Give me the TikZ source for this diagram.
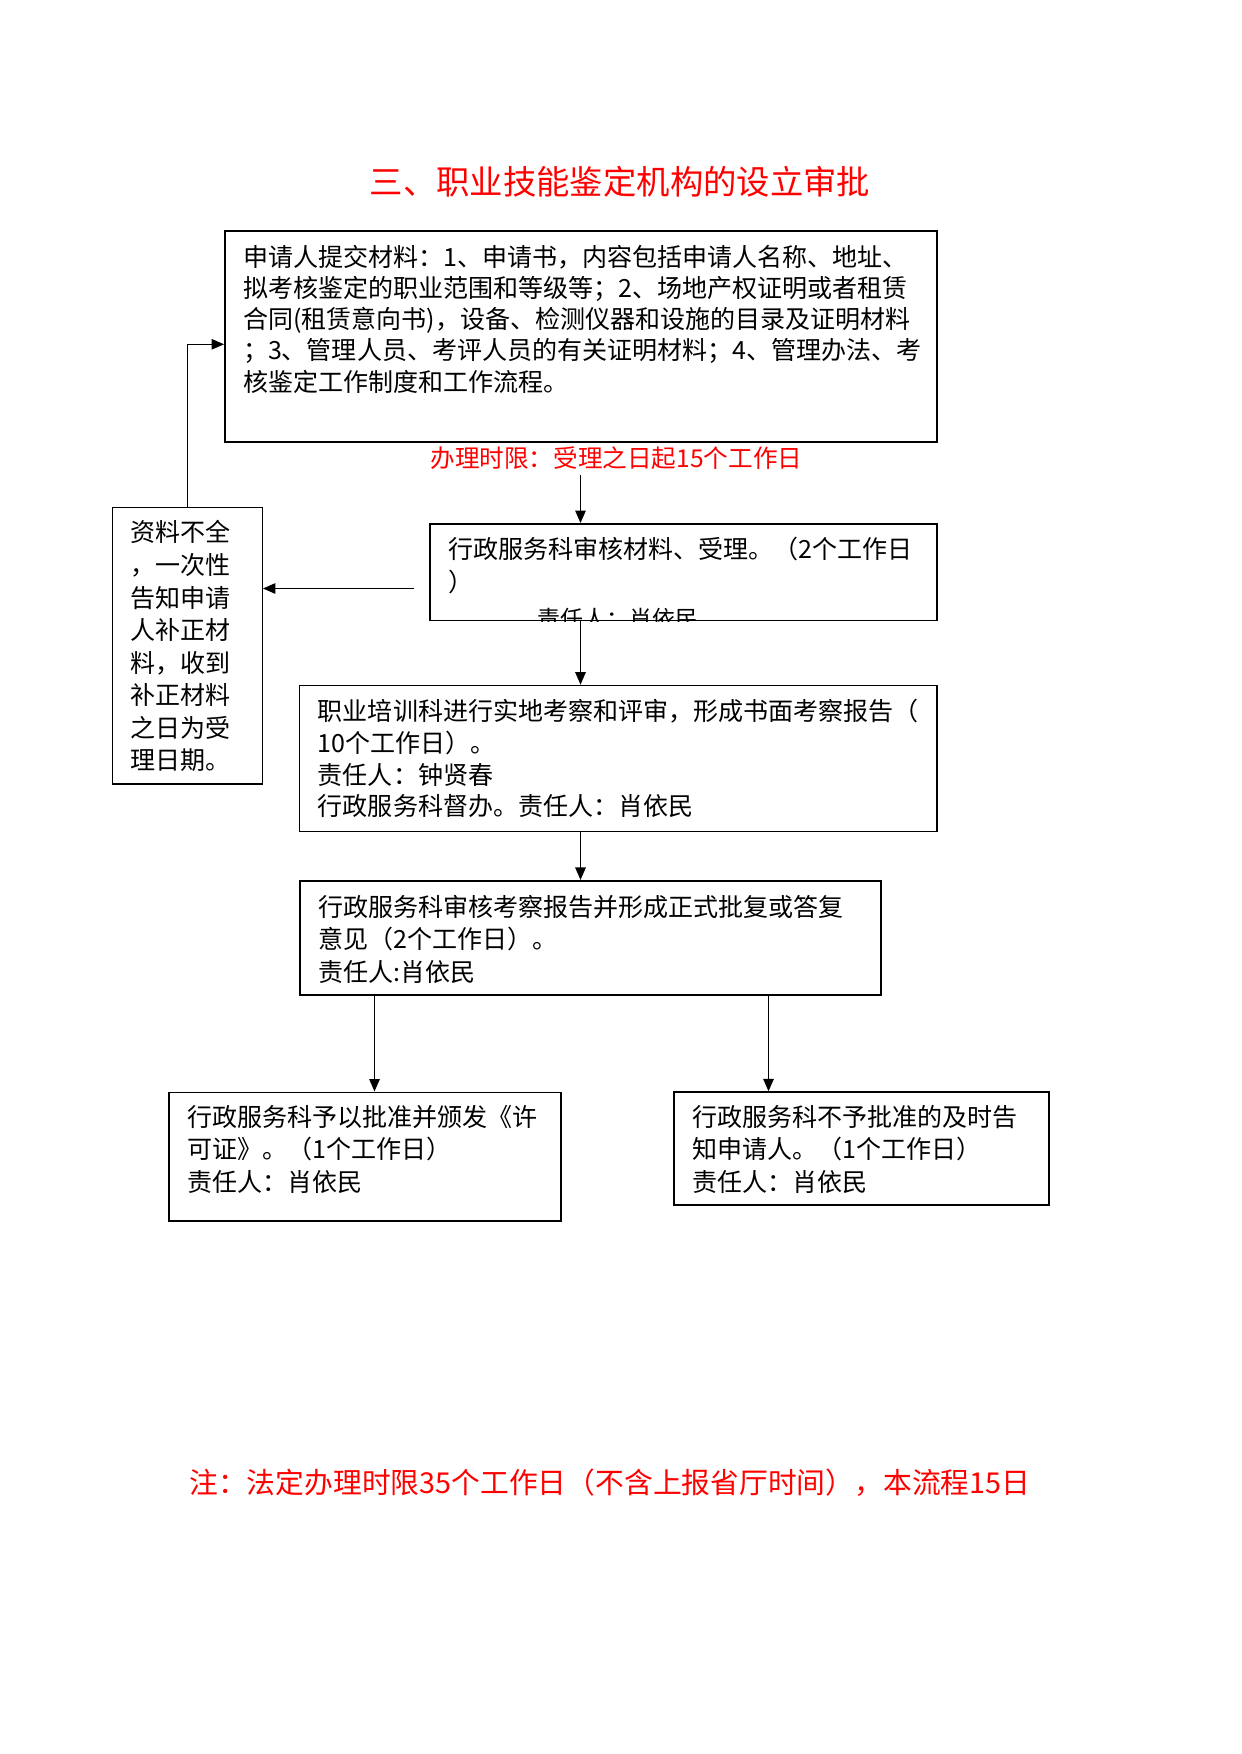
\documentclass[tikz,border=0pt]{standalone}
\usepackage{fontspec}
\setmainfont{Noto Sans CJK SC}
\usetikzlibrary{arrows.meta,fit}
\definecolor{myred}{RGB}{255,0,0}
\tikzset{
  box/.style={draw=black, line width=0.8pt, inner sep=0pt, fit=#1},
  txt/.style={inner sep=0pt, anchor=base west, align=left, font=\fontsize{12pt}{15pt}\selectfont},
  arr/.style={-{Triangle[length=6pt,width=5pt]}, line width=0.75pt},
  redtxt/.style={inner sep=0pt, text=myred},
}
\begin{document}
\begin{tikzpicture}[x=0.4795pt,y=-0.4795pt]
\useasboundingbox[fill=white] (0,0) rectangle (1241,1754);

% title
\node[redtxt, font=\fontsize{16pt}{18pt}\selectfont] (title) at (620,182) {三、职业技能鉴定机构的设立审批};

% box 1
\coordinate (b1a) at (225,231); \coordinate (b1b) at (937,442);
\node[box={(b1a)(b1b)}, line width=0.85pt] (b1) {};
\node[txt, font=\fontsize{12pt}{15pt}\selectfont] (t1) at (242.6,391.2) {申请人提交材料：1、申请书，内容包括申请人名称、地址、\\拟考核鉴定的职业范围和等级等；2、场地产权证明或者租赁\\合同(租赁意向书)，设备、检测仪器和设施的目录及证明材料\\；3、管理人员、考评人员的有关证明材料；4、管理办法、考\\核鉴定工作制度和工作流程。};

% red time limit label
\node[redtxt, anchor=west, font=\fontsize{11.8pt}{15pt}\selectfont] (lim) at (430,458) {办理时限：受理之日起15个工作日};

% box 2
\coordinate (b2a) at (430,524); \coordinate (b2b) at (937,620.5);
\node[box={(b2a)(b2b)}, line width=0.9pt] (b2) {};
\node[txt, font=\fontsize{12pt}{15.8pt}\selectfont] (t2) at (448,591.5) {行政服务科审核材料、受理。（2个工作日\\）};
\begin{scope}
\clip (b2.north west) rectangle (b2.south east);
\node[inner sep=0pt, anchor=west, font=\fontsize{11pt}{13pt}\selectfont] (t2b) at (537,618.5) {责任人：肖依民};
\end{scope}

% left box
\coordinate (bLa) at (112.3,507.3); \coordinate (bLb) at (262.3,784);
\node[box={(bLa)(bLb)}, line width=0.6pt] (bL) {};
\node[txt, font=\fontsize{12pt}{15.6pt}\selectfont] (tL) at (130.5,769.7) {资料不全\\，一次性\\告知申请\\人补正材\\料，收到\\补正材料\\之日为受\\理日期。};

% box 3
\coordinate (b3a) at (299.6,685.3); \coordinate (b3b) at (937,831.8);
\node[box={(b3a)(b3b)}, line width=0.6pt] (b3) {};
\node[txt, font=\fontsize{12pt}{15.25pt}\selectfont] (t3) at (317.5,815.9) {职业培训科进行实地考察和评审，形成书面考察报告（\\10个工作日）。\\责任人：钟贤春\\行政服务科督办。责任人：肖依民};

% box 4
\coordinate (b4a) at (299.6,881); \coordinate (b4b) at (881,995);
\node[box={(b4a)(b4b)}, line width=1.0pt] (b4) {};
\node[txt, font=\fontsize{12pt}{15.6pt}\selectfont] (t4) at (317.8,981.1) {行政服务科审核考察报告并形成正式批复或答复\\意见（2个工作日）。\\责任人:肖依民};

% box 5
\coordinate (b5a) at (168.8,1092.3); \coordinate (b5b) at (561.2,1220.9);
\node[box={(b5a)(b5b)}, line width=0.75pt] (b5) {};
\node[txt, font=\fontsize{12pt}{15.5pt}\selectfont] (t5) at (186.7,1191.2) {行政服务科予以批准并颁发《许\\可证》。（1个工作日）\\责任人：肖依民};

% box 6
\coordinate (b6a) at (674.2,1092.3); \coordinate (b6b) at (1048.7,1205.2);
\node[box={(b6a)(b6b)}, line width=0.95pt] (b6) {};
\node[txt, font=\fontsize{12pt}{15.5pt}\selectfont] (t6) at (692,1191.2) {行政服务科不予批准的及时告\\知申请人。（1个工作日）\\责任人：肖依民};

% note
\node[redtxt, anchor=west, font=\fontsize{13.8pt}{16pt}\selectfont] (note) at (189,1483) {注：法定办理时限35个工作日（不含上报省厅时间），本流程15日};

% connectors
\coordinate (a1) at (580.5,475);
\draw[arr] (a1) -- (a1 |- b2.north);
\draw[arr] (b2.south -| a1) -- (a1 |- b3.north);
\draw[arr] (b3.south -| a1) -- (a1 |- b4.north);
\coordinate (a4) at (374.5,995);
\coordinate (a5) at (768.5,995);
\draw[arr] (b4.south -| a4) -- (b5.north -| a4);
\draw[arr] (b4.south -| a5) -- (b6.north -| a5);
\coordinate (aL) at (414,588.5);
\draw[arr] (aL) -- (aL -| bL.east);
\coordinate (fb) at (187.3,344.3);
\draw[arr, line width=0.55pt] (fb |- bL.north) -- (fb) -- (fb -| b1.west);
\end{tikzpicture}
\end{document}
